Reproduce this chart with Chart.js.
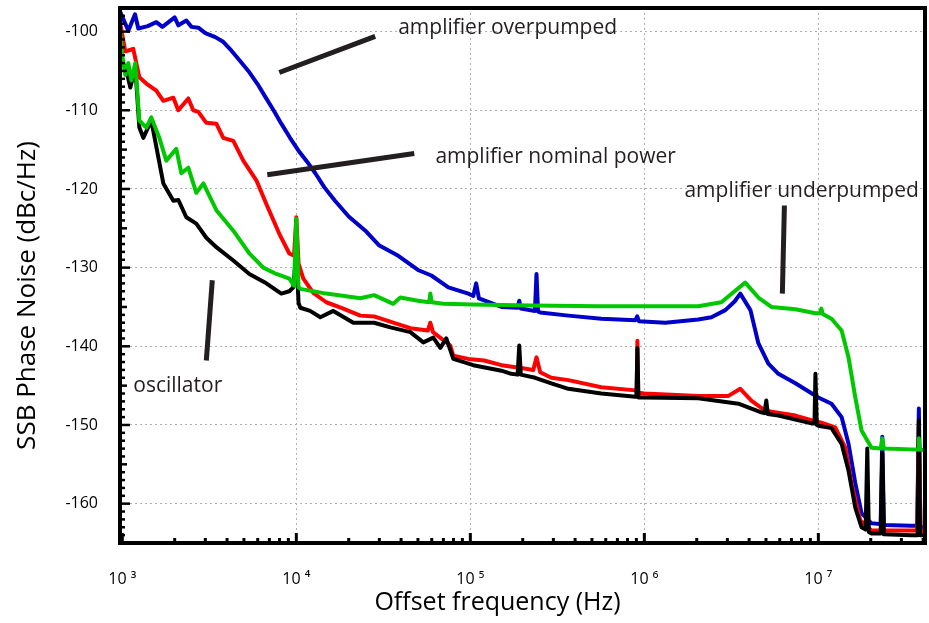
<!DOCTYPE html>
<html>
<head>
<meta charset="utf-8">
<script src="https://cdn.jsdelivr.net/npm/chart.js@4.4.0/dist/chart.umd.min.js"></script>
<style>
    html, body { margin: 0; padding: 0; background: #fff; }
</style>
</head>
<body>
<canvas id="PhaseNoiseChart" width="929" height="623"></canvas>
<script>
// values: offset frequency (Hz) and SSB phase noise (dBc/Hz)
const overFreq = [974, 1083, 1183, 1236, 1400, 1568, 1700, 2000, 2100, 2333, 2500, 2735, 3000, 3423, 3800, 4230, 4700, 5300, 6000, 6635, 7400, 8200, 9200, 10270, 11500, 12860, 14500, 16680, 20000, 24930, 30000, 38550, 50000, 59700, 74800, 97400, 1.04e5, 1.08e5, 1.12e5, 1.51e5, 1.87e5, 1.91e5, 1.95e5, 2.35e5, 2.4e5, 2.45e5, 2.52e5, 3.66e5, 5.66e5, 8.87e5, 9.1e5, 9.3e5, 1.32e6, 2.04e6, 2.43e6, 2.92e6, 3.3e6, 3.56e6, 4.07e6, 4.52e6, 5.16e6, 5.89e6, 7.38e6, 1e7, 1.19e7, 1.36e7, 1.49e7, 1.63e7, 1.77e7, 2.02e7, 2.28e7, 2.33e7, 2.38e7, 3.42e7, 3.7e7, 3.78e7, 3.86e7, 4.01e7];
const overNoise = [-97.5, -99.9, -97.8, -99.6, -99.3, -98.8, -99.4, -98.2, -99.2, -98.6, -99.4, -99.5, -100.2, -100.7, -101.3, -102.4, -103.6, -105, -106.7, -108.3, -110, -111.7, -113.5, -115.1, -116.5, -118, -119.8, -121.5, -123.5, -125.3, -127.2, -128.5, -130.3, -131, -132.5, -133.3, -133.6, -132.0, -133.9, -135, -135.1, -134.2, -135.2, -135.5, -130.8, -135.6, -135.7, -136.1, -136.5, -136.7, -136.2, -136.8, -137, -136.6, -136.3, -135.4, -134.3, -133.3, -135.4, -139.6, -142.2, -143.5, -144.7, -146.5, -147.3, -149, -152.4, -157.4, -161.2, -162.5, -162.6, -151.5, -162.7, -162.8, -162.8, -147.9, -163, -163];

const nomFreq = [974, 1040, 1083, 1156, 1253, 1374, 1568, 1721, 1965, 2098, 2395, 2558, 2735, 3040, 3470, 3805, 4343, 4956, 5893, 6724, 7985, 9116, 9700, 10000, 10300, 10970, 12520, 14870, 18620, 23330, 28000, 36060, 45200, 57000, 58900, 61000, 76740, 79840, 97400, 1.2e5, 1.51e5, 2.0e5, 2.3e5, 2.4e5, 2.52e5, 2.92e5, 3.66e5, 5.66e5, 8.87e5, 9.05e5, 9.12e5, 9.2e5, 1e6, 2.04e6, 3.04e6, 3.56e6, 4.12e6, 4.96e6, 7.38e6, 9.12e6, 1.04e7, 1.25e7, 1.43e7, 1.55e7, 1.74e7, 2.02e7, 3.7e7, 3.78e7, 3.86e7, 4.01e7];
const nomNoise = [-99, -102.5, -102.4, -102.2, -105.8, -106.6, -107.5, -108.8, -108.4, -110, -108.5, -110, -110.2, -111.6, -111.7, -113.5, -113.9, -116.4, -118.9, -121.9, -125.7, -128.2, -128.5, -123.6, -129.5, -131.4, -133.2, -134.4, -135.2, -136.1, -136.2, -137, -137.7, -138, -137, -138.2, -139.9, -141.2, -141.6, -141.8, -142.4, -142.8, -143, -141.4, -143.3, -144, -144.3, -145.2, -145.6, -145.8, -139.3, -145.9, -146, -146.3, -146.3, -145.4, -146.9, -148.2, -148.8, -149.4, -149.7, -150.3, -152.9, -157.4, -162.1, -163.4, -163.4, -150, -163.5, -163.5];

const underFreq = [974, 1000, 1040, 1083, 1127, 1188, 1253, 1374, 1468, 1632, 1790, 2043, 2183, 2395, 2662, 2923, 3470, 4343, 5370, 6460, 7674, 9116, 9700, 10000, 10300, 10544, 14870, 23330, 28000, 36060, 39610, 50000, 58000, 58900, 60000, 69950, 1.04e5, 2.24e5, 5.44e5, 2.04e6, 2.77e6, 3.34e6, 3.8e6, 4.52e6, 5.37e6, 7.38e6, 9.62e6, 1.02e7, 1.04e7, 1.06e7, 1.19e7, 1.36e7, 1.49e7, 1.63e7, 1.77e7, 2.02e7, 2.28e7, 2.33e7, 2.38e7, 3.42e7, 3.74e7, 3.78e7, 3.82e7, 4.01e7];
const underNoise = [-99.9, -103, -105.5, -104, -106.2, -104, -111.3, -112.2, -110.9, -113.5, -116.4, -114.9, -118, -117.3, -120.5, -119.3, -122.7, -125.3, -128.2, -130, -130.8, -131.4, -132.3, -123.8, -132.5, -132.7, -133.3, -133.9, -133.5, -134.6, -133.8, -134.2, -134.4, -133.3, -134.4, -134.6, -134.7, -134.8, -134.9, -134.9, -134.4, -132.9, -131.9, -133.8, -135, -135.3, -135.8, -135.8, -135.2, -135.9, -136.5, -138, -141.4, -146.5, -150.7, -152.9, -153, -151.7, -153, -153.1, -153.1, -151.7, -153.1, -153.2];

const oscFreq = [974, 1000, 1040, 1083, 1112, 1188, 1253, 1321, 1468, 1721, 1965, 2100, 2333, 2662, 3040, 3470, 4343, 5370, 6724, 8200, 9116, 9610, 10000, 10300, 10544, 12000, 13740, 16320, 21260, 28000, 34690, 45200, 53700, 61240, 67250, 72770, 79840, 1.04e5, 1.51e5, 1.72e5, 1.87e5, 1.91e5, 1.95e5, 2.36e5, 2.92e5, 3.66e5, 5.66e5, 8.87e5, 9.0e5, 9.12e5, 9.25e5, 1e6, 2.04e6, 3.47e6, 4.7e6, 4.9e6, 5.02e6, 5.12e6, 5.89e6, 9.12e6, 9.5e6, 9.62e6, 9.8e6, 1e7, 1.19e7, 1.36e7, 1.49e7, 1.63e7, 1.77e7, 1.87e7, 1.91e7, 1.95e7, 2.02e7, 2.28e7, 2.33e7, 2.38e7, 3.42e7, 3.72e7, 3.78e7, 3.84e7, 4.01e7];
const oscNoise = [-100.3, -104, -104.5, -106, -107.1, -104.5, -112.2, -113.5, -111.3, -119.3, -121.5, -121.4, -123.6, -124.4, -126.2, -127.4, -129.1, -130.8, -132, -133.3, -133, -132.5, -128, -134.5, -135.1, -135.5, -136.3, -135.5, -137, -137, -137.6, -138.2, -139.5, -138.9, -140.2, -139, -141.6, -142.4, -143.1, -143.5, -143.6, -139.9, -143.6, -144, -144.7, -145.4, -146, -146.4, -146.4, -140.2, -146.5, -146.5, -146.6, -147.3, -148.4, -148.5, -146.9, -148.6, -148.8, -149.8, -149.8, -143.5, -150, -150.1, -150.4, -152.4, -155.8, -160.5, -163, -163.3, -153, -163.6, -163.8, -163.8, -153.6, -163.9, -164, -164, -149.4, -164, -164];

// axis ticks
const xTickValues = [1e3, 2e3, 3e3, 4e3, 5e3, 6e3, 7e3, 8e3, 9e3, 1e4, 2e4, 3e4, 4e4, 5e4, 6e4, 7e4, 8e4, 9e4, 1e5, 2e5, 3e5, 4e5, 5e5, 6e5, 7e5, 8e5, 9e5, 1e6, 2e6, 3e6, 4e6, 5e6, 6e6, 7e6, 8e6, 9e6, 1e7, 2e7, 3e7, 4e7];
const xDecadeLabels = { 1e3: '10 \u00b3', 1e4: '10 \u2074', 1e5: '10 \u2075', 1e6: '10 \u2076', 1e7: '10 \u2077' };
const yLabelValues = [-100, -110, -120, -130, -140, -150, -160];
const xTitle = 'Offset frequency (Hz)';
const yTitle = 'SSB Phase Noise (dBc/Hz)';

// callouts: text anchor and pointer line, in data units
const noteTexts = ['amplifier overpumped', 'amplifier nominal power', 'amplifier underpumped', 'oscillator'];
const noteFreq = [3.85e4, 6.3e4, 1.7e6, 1156];
const noteLevel = [-99.6, -116.0, -120.2, -145.0];
const lineFromFreq = [7.98e3, 6.81e3, 6.38e6, 3.29e3];
const lineFromLevel = [-105.2, -118.2, -122.1, -131.6];
const lineToFreq = [2.84e4, 4.76e4, 6.21e6, 3.04e3];
const lineToLevel = [-100.6, -115.5, -133.3, -141.8];

const FONT = "'Open Sans', 'DejaVu Sans', sans-serif";

function pairs(xs, ys) {
    return xs.map((x, i) => ({ x: x, y: ys[i] }));
}

function isDecade(v) {
    const l = Math.log10(v);
    return Math.abs(l - Math.round(l)) < 1e-9;
}

function noPadding(s) {
    s.paddingLeft = 0;
    s.paddingRight = 0;
    s.paddingTop = 0;
    s.paddingBottom = 0;
}

const frameAndNotes = {
    id: 'frameAndNotes',
    afterDatasetsDraw(chart) {
        const { ctx, chartArea: a, scales: { x, y } } = chart;
        ctx.save();
        ctx.strokeStyle = '#000';
        ctx.lineCap = 'butt';

        // inside tick marks
        ctx.lineWidth = 3;
        x.ticks.forEach(t => {
            const px = x.getPixelForValue(t.value);
            const len = isDecade(t.value) ? 10 : 5;
            ctx.beginPath();
            ctx.moveTo(px, a.bottom);
            ctx.lineTo(px, a.bottom - len);
            ctx.stroke();
        });
        ctx.lineWidth = 2.5;
        y.ticks.forEach(t => {
            const py = y.getPixelForValue(t.value);
            const len = t.value % 10 === 0 ? 10 : (t.value % 5 === 0 ? 7 : 5);
            ctx.beginPath();
            ctx.moveTo(a.left, py);
            ctx.lineTo(a.left + len, py);
            ctx.stroke();
        });

        // frame
        ctx.lineWidth = 4;
        ctx.strokeRect(a.left, a.top, a.right - a.left, a.bottom - a.top);

        // axis titles (sit a little off the plot centre, as in the original)
        ctx.fillStyle = '#000';
        ctx.textAlign = 'center';
        ctx.textBaseline = 'middle';
        ctx.font = "25px " + FONT;
        ctx.fillText(xTitle, (a.left + a.right) / 2 - 25, chart.height - 20);
        ctx.save();
        ctx.translate(28, (a.top + a.bottom) / 2 + 20);
        ctx.rotate(-Math.PI / 2);
        ctx.font = "26px " + FONT;
        ctx.fillText(yTitle, 0, 0);
        ctx.restore();

        // callouts
        ctx.strokeStyle = '#231f20';
        ctx.fillStyle = '#231f20';
        ctx.lineWidth = 5;
        ctx.font = "21px " + FONT;
        ctx.textAlign = 'left';
        noteTexts.forEach((txt, i) => {
            ctx.beginPath();
            ctx.moveTo(x.getPixelForValue(lineFromFreq[i]), y.getPixelForValue(lineFromLevel[i]));
            ctx.lineTo(x.getPixelForValue(lineToFreq[i]), y.getPixelForValue(lineToLevel[i]));
            ctx.stroke();
            ctx.fillText(txt, x.getPixelForValue(noteFreq[i]), y.getPixelForValue(noteLevel[i]));
        });
        ctx.restore();
    }
};

const ctx = document.getElementById('PhaseNoiseChart').getContext('2d');

const chart = new Chart(ctx, {
    type: 'line',
    data: {
        datasets: [
            { label: 'amplifier underpumped', data: pairs(underFreq, underNoise), borderColor: '#00c800' },
            { label: 'oscillator', data: pairs(oscFreq, oscNoise), borderColor: '#000000' },
            { label: 'amplifier nominal power', data: pairs(nomFreq, nomNoise), borderColor: '#ff0000' },
            { label: 'amplifier overpumped', data: pairs(overFreq, overNoise), borderColor: '#0000c8' }
        ]
    },
    options: {
        responsive: false,
        animation: false,
        layout: { padding: { top: 8, right: 4, left: 0, bottom: 0 } },
        elements: {
            point: { radius: 0 },
            line: { tension: 0, borderWidth: 4, fill: false, borderJoinStyle: 'round' }
        },
        plugins: {
            legend: { display: false },
            tooltip: { enabled: false }
        },
        scales: {
            x: {
                type: 'logarithmic',
                min: 970,
                max: 4.1e7,
                afterBuildTicks: s => { s.ticks = xTickValues.map(v => ({ value: v })); },
                afterFit: s => { s.height = 80; noPadding(s); },
                ticks: {
                    autoSkip: false,
                    maxRotation: 0,
                    padding: 27,
                    color: '#000',
                    font: { family: FONT, size: 16 },
                    callback: v => xDecadeLabels[v] || ''
                },
                grid: {
                    drawTicks: false,
                    lineWidth: 1,
                    color: c => (c.tick && isDecade(c.tick.value) && c.tick.value > 1e3) ? '#b0b0b0' : 'rgba(0,0,0,0)'
                },
                border: { display: false, dash: [2, 3] }
            },
            y: {
                type: 'linear',
                min: -165,
                max: -97,
                afterBuildTicks: s => {
                    const t = [];
                    for (let v = -165; v <= -97; v++) t.push({ value: v });
                    s.ticks = t;
                },
                afterFit: s => { s.width = 120; noPadding(s); },
                ticks: {
                    autoSkip: false,
                    padding: 22,
                    color: '#000',
                    font: { family: FONT, size: 16 },
                    callback: v => yLabelValues.includes(v) ? String(v) : ''
                },
                grid: {
                    drawTicks: false,
                    lineWidth: 1,
                    color: c => (c.tick && yLabelValues.includes(c.tick.value)) ? '#b0b0b0' : 'rgba(0,0,0,0)'
                },
                border: { display: false, dash: [2, 3] }
            }
        }
    },
    plugins: [frameAndNotes]
});
</script>
</body>
</html>
